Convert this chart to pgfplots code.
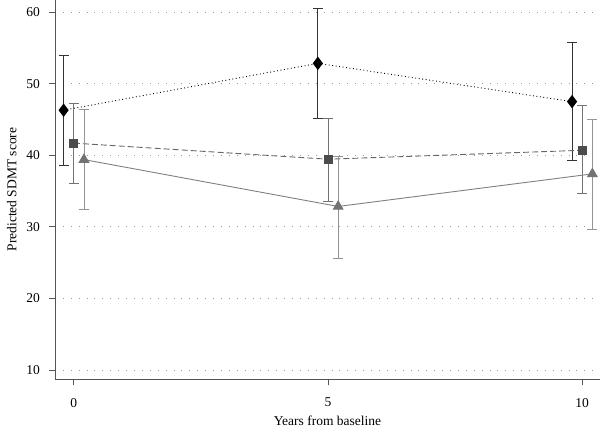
\documentclass[border=0pt]{standalone}
\usepackage{pgfplots}
\pgfplotsset{compat=1.18}
\usepackage{fontspec}
\setmainfont{Liberation Serif}
\definecolor{axc}{HTML}{555555}
\begin{document}
\begin{tikzpicture}
\begin{axis}[
  scale only axis, width=545pt, height=379pt,
  xmin=-0.37, xmax=10.35, ymin=8.74, ymax=61.7,
  axis x line*=bottom, axis y line*=left,
  axis line style={-, axc, line width=0.9pt},
  xtick={0,5,10}, ytick={10,20,...,60},
  tick align=outside, major tick length=6.5pt,
  tick style={axc, line width=0.9pt},
  ymajorgrids, grid style={dash pattern=on 0.9pt off 7pt, gray!80, line width=0.9pt},
  tick label style={font=\fontsize{13.5}{15}\selectfont},
  xticklabel style={yshift=-9pt},
  yticklabel style={xshift=-5pt},
  /pgf/number format/assume math mode=true,
  xlabel={Years from baseline}, ylabel={Predicted SDMT score},
  label style={font=\fontsize{13.5}{15}\selectfont},
  xlabel style={yshift=-2pt},
  ylabel style={yshift=3pt},
  error bars/y dir=both, error bars/y explicit,
  error bars/error mark=-,
  error bars/error mark options={rotate=90, solid, mark size=5pt, line width=0.9pt},
]
\addplot[black, dash pattern=on 0.9pt off 2.6pt, line width=0.9pt, mark=diamond*, mark size=6pt, mark options={solid, fill=black},
  error bars/error bar style={solid, color=black!80, line width=0.9pt}]
  coordinates {(-0.2,46.3) += (0,7.7) -= (0,7.7)
               (4.8,52.85) += (0,7.65) -= (0,7.75)
               (9.8,47.5) += (0,8.2) -= (0,8.2)};
\addplot[black!60, dash pattern=on 6pt off 3pt, line width=0.9pt, mark=square*, mark size=4pt, mark options={solid, fill=black!70, draw=black!70},
  error bars/error bar style={solid, color=black!55, line width=0.9pt}]
  coordinates {(0,41.7) += (0,5.6) -= (0,5.7)
               (5,39.45) += (0,5.65) -= (0,5.85)
               (10,40.7) += (0,6.2) -= (0,6.1)};
\addplot[black!50, solid, line width=0.9pt, mark=triangle*, mark size=5.5pt, mark options={solid, fill=black!55, draw=black!55},
  error bars/error bar style={solid, color=black!42, line width=0.9pt}]
  coordinates {(0.2,39.4) += (0,7.0) -= (0,7.0)
               (5.2,32.85) += (0,6.95) -= (0,7.25)
               (10.2,37.4) += (0,7.6) -= (0,7.7)};
\end{axis}
\pgfresetboundingbox
\path[use as bounding box] (current axis.south west) ++(-55pt,-51pt) rectangle (current axis.north east);
\end{tikzpicture}
\end{document}
